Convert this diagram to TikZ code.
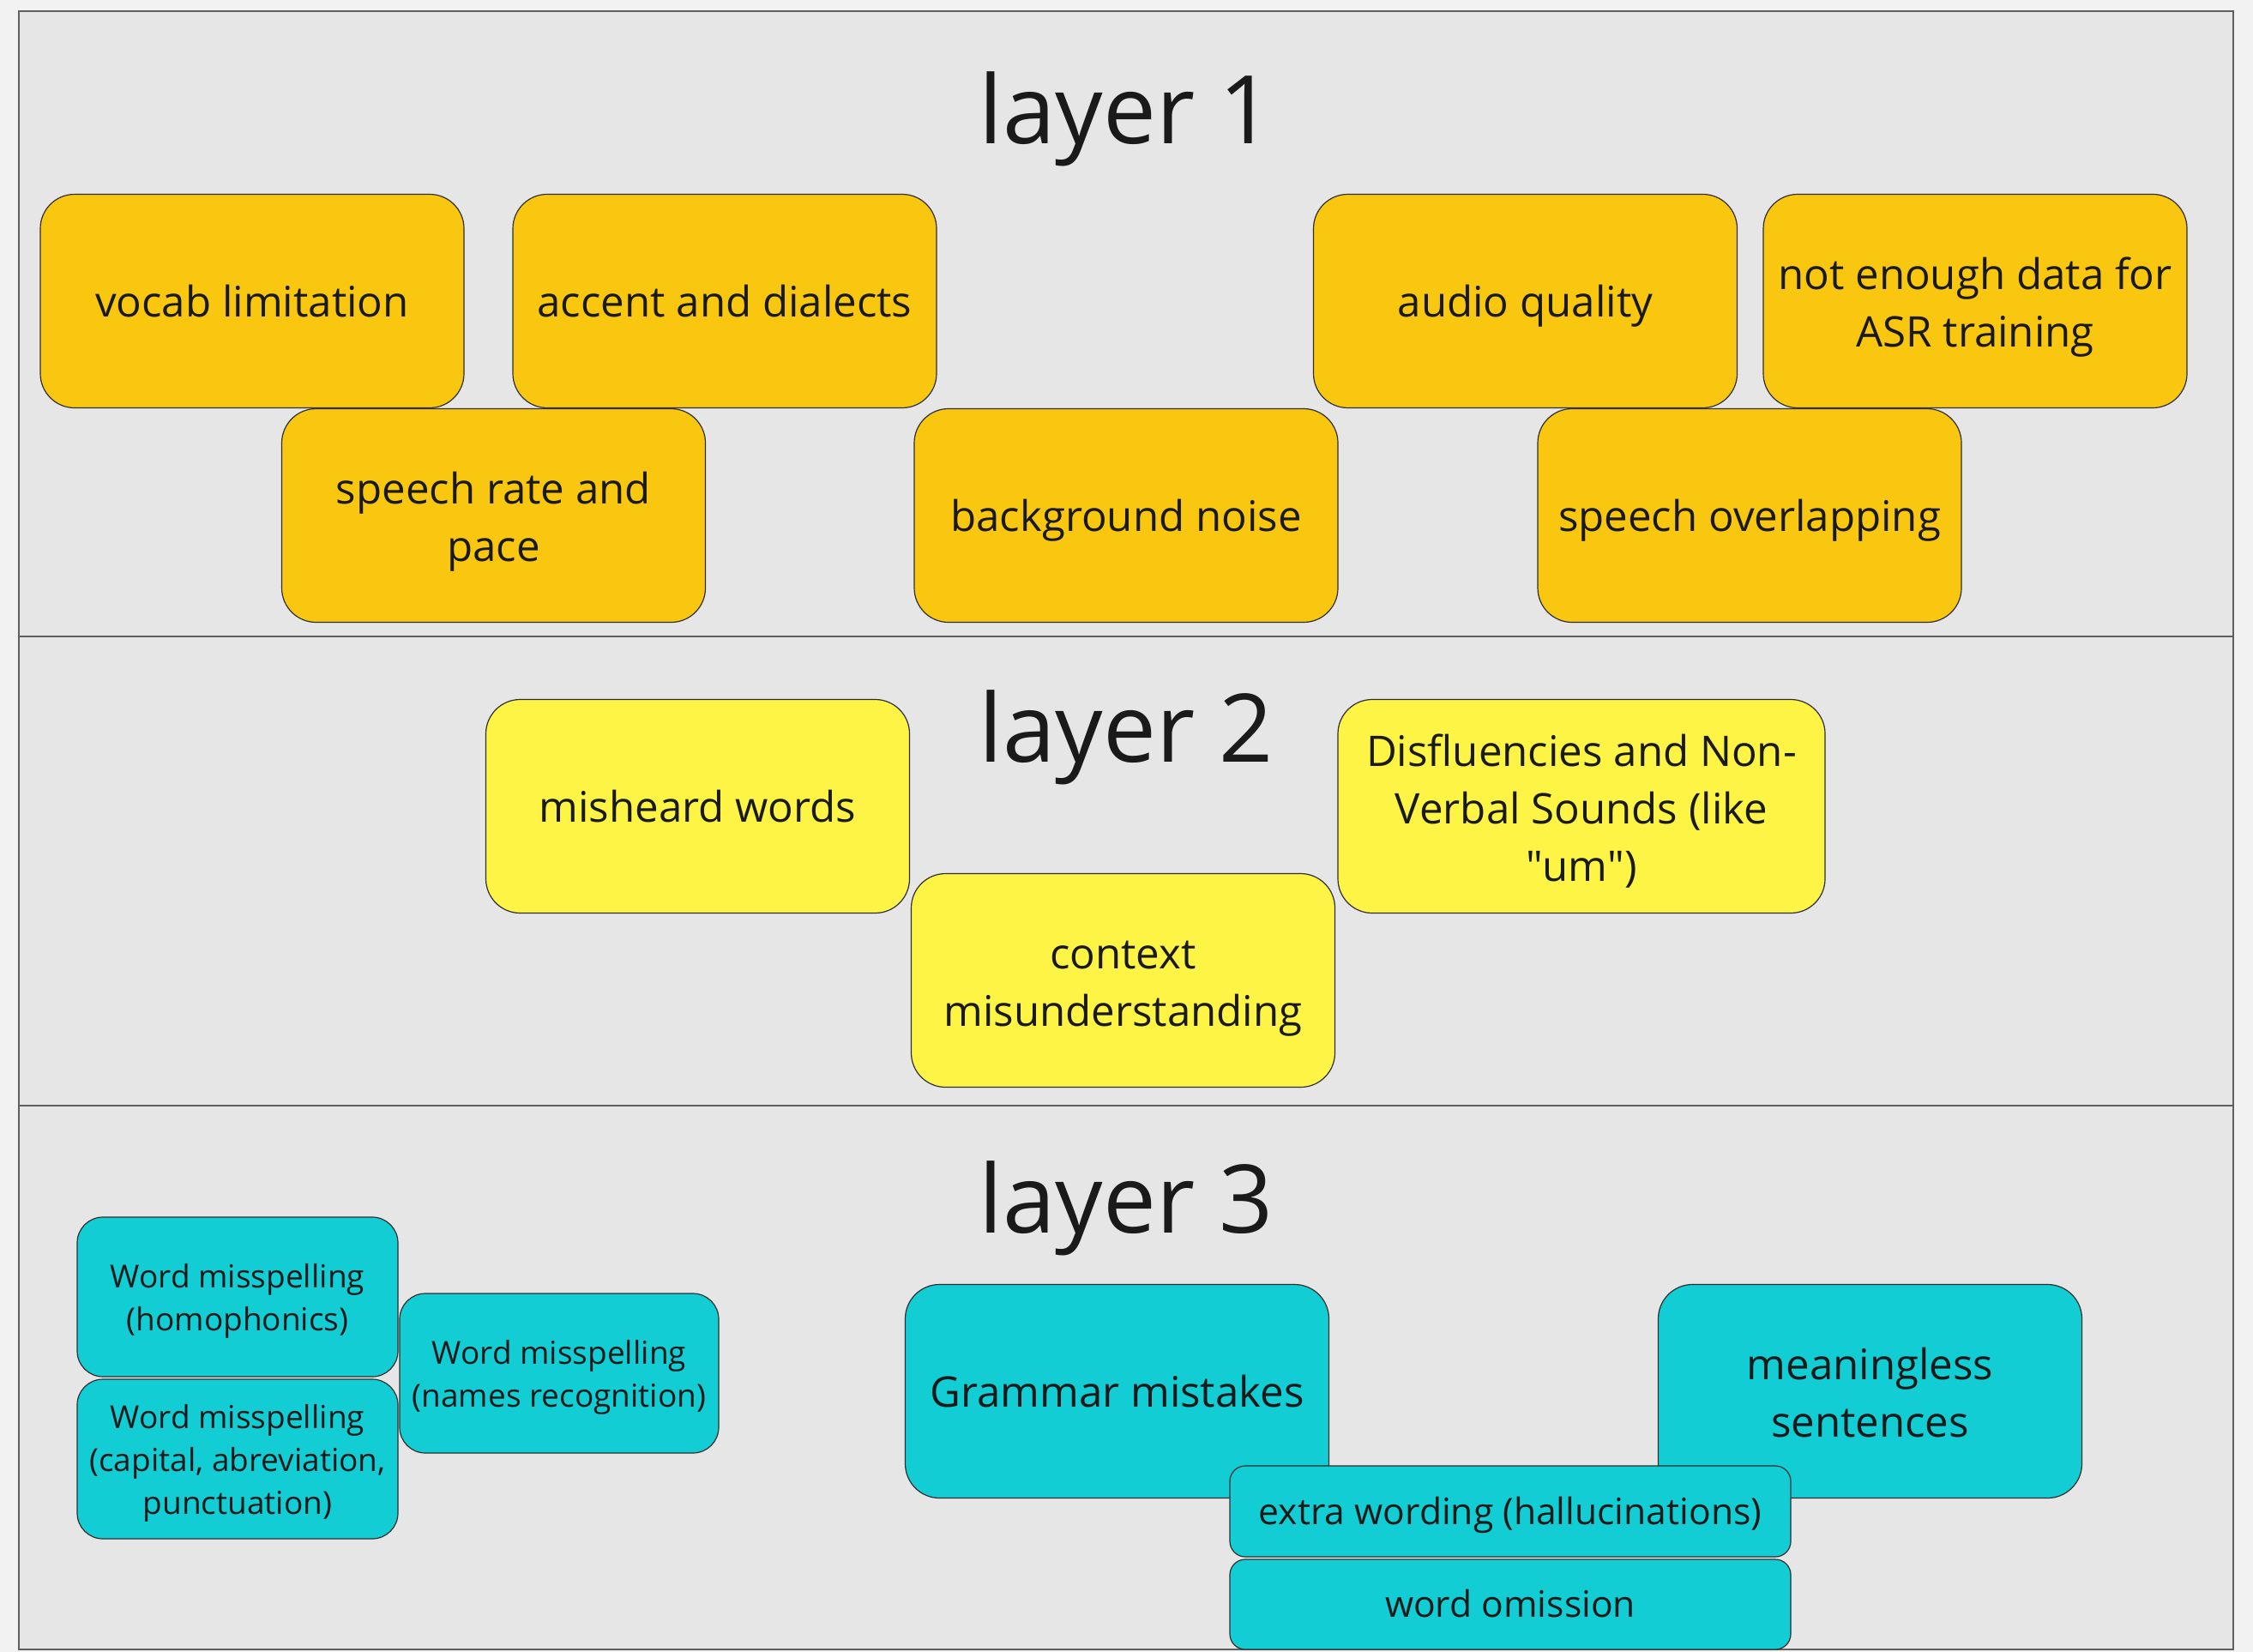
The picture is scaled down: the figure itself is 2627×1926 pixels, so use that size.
\documentclass[tikz,border=0pt]{standalone}
\usepackage{fontspec}
\setmainfont{Open Sans}
\definecolor{bgout}{HTML}{F2F2F2}
\definecolor{frame}{HTML}{E6E6E6}
\definecolor{frameline}{HTML}{5F5F5F}
\definecolor{orangebox}{HTML}{FAC710}
\definecolor{yellowbox}{HTML}{FEF445}
\definecolor{cyanbox}{HTML}{12CDD4}
\definecolor{txt}{HTML}{1A1A1A}
\definecolor{edge}{HTML}{2E2E2E}
\newcommand\sq{\XeTeXglyph\XeTeXglyphindex "quotedbl"\relax}
\newcommand\tb{\rule{0pt}{26.45pt}}
\newcommand\bb{\rule[-6.25pt]{0pt}{6.25pt}}
\newcommand\tsm{\rule{0pt}{19.55pt}}
\newcommand\bsm{\rule[-4.75pt]{0pt}{4.75pt}}
\tikzset{
  card/.style={draw=edge, line width=0.6pt, rounded corners=20pt, inner sep=0pt,
    align=center, text=txt, font=\fontsize{24.6pt}{33.5pt}\selectfont,
    minimum width=247pt, minimum height=124.5pt},
  bigone/.style={card, execute at begin node={\rule{0pt}{24.75pt}},
    execute at end node={\rule[-6.25pt]{0pt}{6.25pt}}},
  l1one/.style={bigone, fill=orangebox},
  l1multi/.style={card, fill=orangebox},
  l2one/.style={bigone, fill=yellowbox},
  l2multi/.style={card, fill=yellowbox},
  l3one/.style={bigone, fill=cyanbox},
  l3multi/.style={card, fill=cyanbox},
  l3small/.style={draw=edge, line width=0.6pt, fill=cyanbox, rounded corners=15pt,
    inner sep=0pt, align=center, text=txt, font=\fontsize{18.5pt}{25pt}\selectfont,
    minimum width=187pt, minimum height=93pt},
  l3strip/.style={draw=edge, line width=0.6pt, fill=cyanbox, rounded corners=9pt,
    inner sep=0pt, align=center, text=txt, font=\fontsize{21.3pt}{28pt}\selectfont,
    execute at begin node={\rule{0pt}{20.3pt}},
    execute at end node={\rule[-5.2pt]{0pt}{5.2pt}},
    minimum width=327pt, minimum height=53pt},
  layertitle/.style={anchor=base, text=txt, inner sep=0pt, font=\fontsize{55.2pt}{60pt}\selectfont}
}
\begin{document}
\begin{tikzpicture}[x=0.5pt,y=-0.5pt]
\useasboundingbox (0,0) rectangle (2627,1926);
\fill[bgout] (0,0) rectangle (2627,1926);
\draw[frameline, line width=1.2pt, fill=frame] (22,13) rectangle (2604,1923);
\coordinate (d1l) at (22,742); \coordinate (d1r) at (2604,742);
\coordinate (d2l) at (22,1289); \coordinate (d2r) at (2604,1289);
\draw[frameline, line width=1.4pt] (d1l) -- (d1r);
\draw[frameline, line width=1.4pt] (d2l) -- (d2r);

% layer 1
\node[layertitle] (t1) at (1313,168) {layer 1};
\node[l1one] (vocab) at (294,351) {vocab limitation};
\node[l1one] (accent) at (845,351) {accent and dialects};
\node[l1one] (audio) at (1778.5,351) {audio quality};
\node[l1multi] (data) at (2303,351) {\tb not enough data for\\ASR training\bb};
\node[l1multi] (rate) at (575.5,601) {\tb speech rate and\\pace\bb};
\node[l1one] (noise) at (1313,601) {background noise};
\node[l1one] (overlap) at (2040,601) {speech overlapping};

% layer 2
\node[layertitle] (t2) at (1313,888) {layer 2};
\node[l2one] (misheard) at (813.5,940) {misheard words};
\node[l2multi] (context) at (1309.5,1143) {\tb context\\misunderstanding\bb};
\node[l2multi, minimum width=284pt] (disfl) at (1844,940) {\tb Disfluencies and Non-\\Verbal Sounds (like\\\sq um\sq)\bb};

% layer 3
\node[layertitle] (t3) at (1313,1437) {layer 3};
\node[l3small] (homo) at (277,1512) {\tsm Word misspelling\\(homophonics)\bsm};
\node[l3small] (capital) at (277,1701) {\tsm Word misspelling\\(capital, abreviation,\\punctuation)\bsm};
\node[l3small, minimum width=186pt] (names) at (652,1601) {\tsm Word misspelling\\(names recognition)\bsm};
\node[l3one] (grammar) at (1302.5,1622) {Grammar mistakes};
\node[l3multi] (meaning) at (2180.5,1622) {\tb meaningless\\sentences\bb};
\node[l3strip] (extra) at (1761,1762) {extra wording (hallucinations)};
\node[l3strip, minimum height=52.5pt] (omission) at (1761,1870.5) {word omission};
\end{tikzpicture}
\end{document}
